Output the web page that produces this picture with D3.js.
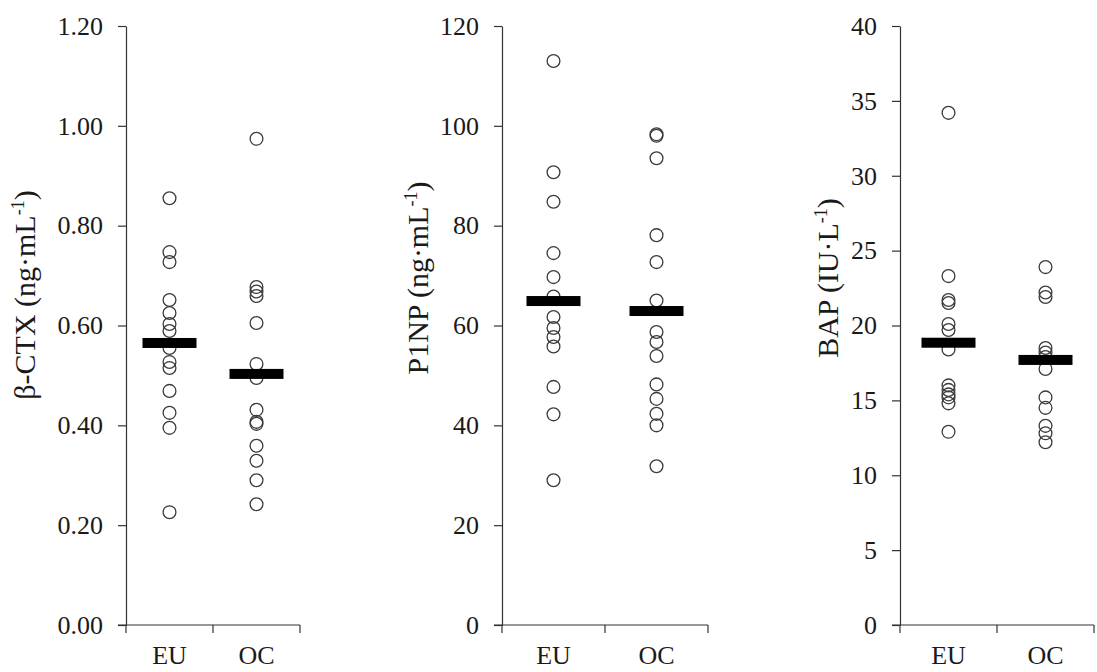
<!DOCTYPE html>
<html>
<head>
<meta charset="utf-8">
<script src="https://cdn.jsdelivr.net/npm/d3@7"></script>
<style>
  html, body { margin: 0; padding: 0; background: #fff; }
  svg { display: block; }
  text { font-family: "Liberation Serif", "Times New Roman", serif; fill: #1a1a1a; }
</style>
</head>
<body>
<svg id="chart" width="1097" height="672"></svg>
<script>
// Groups on the x axis
const groups = ["EU", "OC"];

// β-CTX (ng·mL-1)
const ctxEU = [0.855, 0.747, 0.727, 0.651, 0.625, 0.603, 0.589, 0.555, 0.527, 0.515, 0.469, 0.425, 0.395, 0.226];
const ctxOC = [0.974, 0.677, 0.668, 0.659, 0.605, 0.523, 0.495, 0.431, 0.407, 0.403, 0.359, 0.329, 0.290, 0.242];
const ctxMean = [0.565, 0.503];
const ctxTicks = [0, 0.2, 0.4, 0.6, 0.8, 1.0, 1.2];

// P1NP (ng·mL-1)
const p1npEU = [113.0, 90.7, 84.8, 74.5, 69.7, 65.8, 61.7, 59.5, 57.7, 55.8, 47.7, 42.2, 29.0];
const p1npOC = [98.3, 98.0, 93.5, 78.1, 72.7, 65.0, 58.7, 56.7, 53.9, 48.2, 45.3, 42.3, 40.0, 31.8];
const p1npMean = [64.9, 62.9];
const p1npTicks = [0, 20, 40, 60, 80, 100, 120];

// BAP (IU·L-1)
const bapEU = [34.2, 23.3, 21.7, 21.5, 20.1, 19.7, 18.4, 16.0, 15.7, 15.4, 15.2, 14.8, 12.9];
const bapOC = [23.9, 22.2, 21.9, 18.5, 18.2, 17.9, 17.1, 15.2, 14.5, 13.3, 12.8, 12.2];
const bapMean = [18.85, 17.7];
const bapTicks = [0, 5, 10, 15, 20, 25, 30, 35, 40];

const svg = d3.select("#chart");
const yTop = 26, yBottom = 625;
const labelSize = 26, titleSize = 30;

const panels = [
  { left: 126, band: 87,  max: 1.2, ticks: ctxTicks,  fmt: d3.format(".2f"),
    series: [ctxEU, ctxOC], means: ctxMean, title: ["β-CTX (ng·mL", "-1", ")"], titleX: 35, titleY: 295 },
  { left: 502, band: 103, max: 120, ticks: p1npTicks, fmt: d3.format("d"),
    series: [p1npEU, p1npOC], means: p1npMean, title: ["P1NP (ng·mL", "-1", ")"], titleX: 428, titleY: 278 },
  { left: 900, band: 97,  max: 40,  ticks: bapTicks,  fmt: d3.format("d"),
    series: [bapEU, bapOC], means: bapMean, title: ["BAP (IU·L", "-1", ")"], titleX: 838, titleY: 278 }
];

panels.forEach(p => {
  const g = svg.append("g");
  const x = d3.scaleBand().domain(groups).range([p.left, p.left + p.band * groups.length]).padding(0);
  const y = d3.scaleLinear().domain([0, p.max]).range([yBottom, yTop]);

  // y axis
  const yAxis = g.append("g")
    .attr("transform", `translate(${p.left},0)`)
    .call(d3.axisLeft(y).tickValues(p.ticks).tickFormat(p.fmt).tickSize(8).tickSizeOuter(0).tickPadding(15));
  yAxis.select(".domain").attr("stroke", "#333").attr("stroke-width", 1.2);
  yAxis.selectAll(".tick line").attr("stroke", "#333").attr("stroke-width", 1.2);
  yAxis.selectAll(".tick text").attr("font-size", labelSize).attr("fill", "#1a1a1a")
    .attr("font-family", "Liberation Serif, serif");

  // x axis: category labels centred in bands, ticks on band boundaries
  const xAxis = g.append("g")
    .attr("transform", `translate(0,${yBottom})`)
    .call(d3.axisBottom(x).tickSize(0).tickSizeOuter(0).tickPadding(21));
  xAxis.select(".domain").remove();
  xAxis.selectAll(".tick text").attr("font-size", labelSize).attr("fill", "#1a1a1a")
    .attr("font-family", "Liberation Serif, serif");
  const bounds = [x.range()[0]].concat(groups.map(d => x(d) + x.bandwidth()));
  g.append("line")
    .attr("x1", p.left - 8).attr("x2", x.range()[1])
    .attr("y1", yBottom).attr("y2", yBottom)
    .attr("stroke", "#333").attr("stroke-width", 1.2);
  g.selectAll(".bt").data(bounds).join("line")
    .attr("x1", d => d).attr("x2", d => d)
    .attr("y1", yBottom).attr("y2", yBottom + 8)
    .attr("stroke", "#333").attr("stroke-width", 1.2);

  // individual values
  p.series.forEach((vals, i) => {
    const cx = x(groups[i]) + x.bandwidth() / 2;
    g.selectAll(null).data(vals).join("circle")
      .attr("cx", cx)
      .attr("cy", d => y(d))
      .attr("r", 6.4)
      .attr("fill", "none")
      .attr("stroke", "#3a3a3a")
      .attr("stroke-width", 1.3);
  });

  // group means
  g.selectAll(null).data(p.means).join("rect")
    .attr("x", (d, i) => x(groups[i]) + x.bandwidth() / 2 - 27)
    .attr("y", d => y(d) - 5)
    .attr("width", 54)
    .attr("height", 10)
    .attr("fill", "#000");

  // axis title
  const t = g.append("text")
    .attr("transform", `translate(${p.titleX},${p.titleY}) rotate(-90)`)
    .attr("text-anchor", "middle")
    .attr("font-size", titleSize);
  t.append("tspan").text(p.title[0]);
  t.append("tspan").text(p.title[1]).attr("font-size", 18).attr("dy", -11);
  t.append("tspan").text(p.title[2]).attr("dy", 11);
});
</script>
</body>
</html>
